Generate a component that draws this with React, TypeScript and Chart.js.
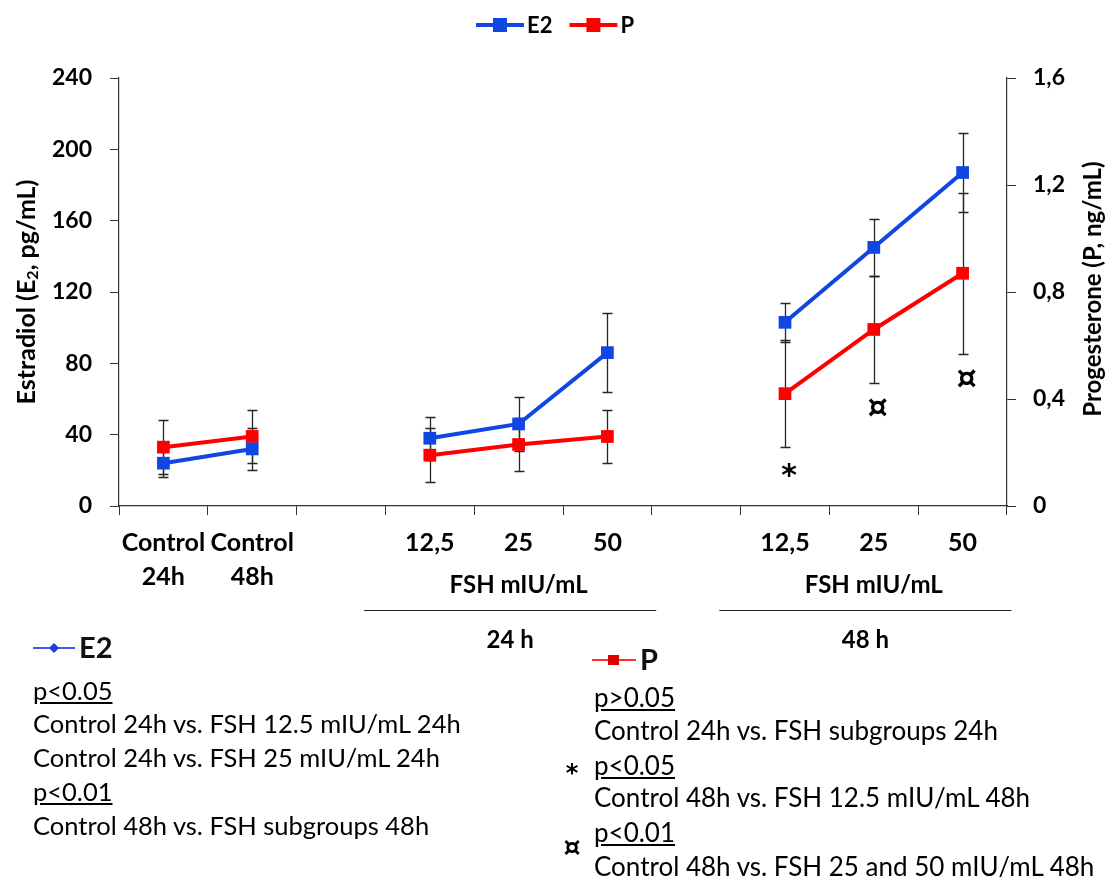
import React, { useEffect, useRef } from "react";
import { Chart, registerables } from "chart.js";

Chart.register(...registerables);

const FONT = "Lato, 'Noto Sans', 'DejaVu Sans', sans-serif";
const MARK_FONT = "'DejaVu Sans', sans-serif";
const BLUE = "#1046e2";
const RED = "#ff0000";

// ---- data ----
const categories: (string | string[])[] = [
  ["Control", "24h"],
  ["Control", "48h"],
  "",
  "12,5",
  "25",
  "50",
  "",
  "12,5",
  "25",
  "50",
];
const e2Values = [24, 32, null, 38, 46, 86, null, 103, 145, 187];
const e2Errors = [8, 12, null, 12, 15, 22, null, 11, 16, 22];
const pValues = [0.22, 0.26, null, 0.19, 0.23, 0.26, null, 0.42, 0.66, 0.87];
const pErrors = [0.1, 0.1, null, 0.1, 0.1, 0.1, null, 0.2, 0.2, 0.3];

const groupSubLabel = "FSH mIU/mL";
const groupNames = ["24 h", "48 h"];
const groupFirst = [3, 7];
const groupLast = [5, 9];

const sigIndex = [7, 8, 9];
const sigMark = ["*", "¤", "¤"];

const leftTitle = ["Estradiol (E", "2", ", pg/mL)"];
const rightTitle = "Progesterone (P, ng/mL)";

const e2NoteText = [
  "p<0.05",
  "Control 24h vs. FSH 12.5 mIU/mL 24h",
  "Control 24h vs. FSH 25 mIU/mL 24h",
  "p<0.01",
  "Control 48h vs. FSH subgroups 48h",
];
const e2NoteUnderline = [true, false, false, true, false];
const pNoteText = [
  "p>0.05",
  "Control 24h vs. FSH subgroups 24h",
  "p<0.05",
  "Control 48h vs. FSH 12.5 mIU/mL 48h",
  "p<0.01",
  "Control 48h vs. FSH 25 and 50 mIU/mL 48h",
];
const pNoteUnderline = [true, false, true, false, true, false];
const pNoteMark = ["", "", "*", "", "¤", ""];

const errorsByDataset = [e2Errors, pErrors];

const errorBarPlugin = {
  id: "errorBars",
  beforeDatasetsDraw(chart: any) {
    const ctx = chart.ctx;
    ctx.save();
    ctx.strokeStyle = "#262626";
    ctx.lineWidth = 1.3;
    chart.data.datasets.forEach((ds: any, di: number) => {
      const meta = chart.getDatasetMeta(di);
      const ys = chart.scales[ds.yAxisID];
      const errs = errorsByDataset[di];
      ds.data.forEach((v: number | null, i: number) => {
        const e = errs[i];
        if (v == null || e == null) return;
        const x = Math.round(meta.data[i].x) + 0.5;
        const yt = Math.round(ys.getPixelForValue(v + e)) + 0.5;
        const yb = Math.round(ys.getPixelForValue(v - e)) + 0.5;
        ctx.beginPath();
        ctx.moveTo(x, yt);
        ctx.lineTo(x, yb);
        ctx.moveTo(x - 5, yt);
        ctx.lineTo(x + 5, yt);
        ctx.moveTo(x - 5, yb);
        ctx.lineTo(x + 5, yb);
        ctx.stroke();
      });
    });
    ctx.restore();
  },
};

const overlayPlugin = {
  id: "overlay",
  afterDraw(chart: any) {
    const ctx = chart.ctx;
    const xs = chart.scales.x;
    const yr = chart.scales.y1;
    const area = chart.chartArea;
    const step = xs.getPixelForValue(1) - xs.getPixelForValue(0);
    ctx.save();

    // top legend
    ctx.font = `bold 22px ${FONT}`;
    ctx.textBaseline = "middle";
    ctx.textAlign = "left";
    const lineLen = 48;
    const gap = 17;
    const widths = chart.data.datasets.map(
      (d: any) => lineLen + 3 + ctx.measureText(d.label).width
    );
    const total = widths.reduce((a: number, b: number) => a + b, 0) + gap;
    let lx = chart.width / 2 - total / 2;
    const ly = 25;
    chart.data.datasets.forEach((d: any, i: number) => {
      ctx.strokeStyle = d.borderColor;
      ctx.lineWidth = 4;
      ctx.beginPath();
      ctx.moveTo(lx, ly);
      ctx.lineTo(lx + lineLen, ly);
      ctx.stroke();
      ctx.fillStyle = d.borderColor;
      ctx.fillRect(lx + lineLen / 2 - 7, ly - 7, 14, 14);
      ctx.fillStyle = "#000";
      ctx.fillText(d.label, lx + lineLen + 3, ly + 1);
      lx += widths[i] + gap;
    });

    // group labels
    ctx.fillStyle = "#000";
    ctx.textAlign = "center";
    ctx.font = `bold 24px ${FONT}`;
    groupNames.forEach((name, g) => {
      const a = xs.getPixelForValue(groupFirst[g]);
      const b = xs.getPixelForValue(groupLast[g]);
      const mid = (a + b) / 2;
      ctx.fillText(groupSubLabel, mid, 585);
      const l = a - 0.74 * step;
      const r = b + 0.55 * step;
      ctx.strokeStyle = "#222";
      ctx.lineWidth = 1.2;
      ctx.beginPath();
      ctx.moveTo(l, 610.5);
      ctx.lineTo(r, 610.5);
      ctx.stroke();
      ctx.fillText(name, (l + r) / 2, 640);
    });

    // significance marks
    sigIndex.forEach((idx, k) => {
      const x = xs.getPixelForValue(idx);
      const v = pValues[idx] as number;
      const e = pErrors[idx] as number;
      const y = yr.getPixelForValue(v - e) + 26;
      const isStar = sigMark[k] === "*";
      ctx.font = isStar ? `bold 30px ${MARK_FONT}` : `bold 32px ${MARK_FONT}`;
      ctx.fillText(sigMark[k], x + 4, isStar ? y + 4 : y);
    });

    // axis titles
    const cy = (area.top + area.bottom) / 2;
    ctx.save();
    ctx.translate(27, cy);
    ctx.rotate(-Math.PI / 2);
    const f1 = `bold 25px ${FONT}`;
    const f2 = `bold 16px ${FONT}`;
    ctx.font = f1;
    const w0 = ctx.measureText(leftTitle[0]).width;
    const w2 = ctx.measureText(leftTitle[2]).width;
    ctx.font = f2;
    const w1 = ctx.measureText(leftTitle[1]).width;
    let tx = -(w0 + w1 + w2) / 2;
    ctx.textAlign = "left";
    ctx.font = f1;
    ctx.fillText(leftTitle[0], tx, 0);
    tx += w0;
    ctx.font = f2;
    ctx.fillText(leftTitle[1], tx, 6);
    tx += w1;
    ctx.font = f1;
    ctx.fillText(leftTitle[2], tx, 0);
    ctx.restore();

    ctx.save();
    ctx.translate(1093, cy - 3);
    ctx.rotate(-Math.PI / 2);
    ctx.textAlign = "center";
    ctx.font = `bold 24px ${FONT}`;
    ctx.fillText(rightTitle, 0, 0);
    ctx.restore();

    ctx.restore();
  },
};

export default function App() {
  const ref = useRef<HTMLCanvasElement>(null);

  useEffect(() => {
    const tickFont = { family: FONT, size: 23, weight: "bold" as const };
    const chart = new Chart(ref.current as HTMLCanvasElement, {
      type: "line",
      data: {
        labels: categories as any,
        datasets: [
          {
            label: "E2",
            data: e2Values as any,
            yAxisID: "y",
            borderColor: BLUE,
            backgroundColor: BLUE,
            pointBackgroundColor: BLUE,
            pointBorderColor: BLUE,
            borderWidth: 4,
            pointStyle: "rect",
            pointRadius: 9,
            pointBorderWidth: 0,
            spanGaps: false,
            tension: 0,
          },
          {
            label: "P",
            data: pValues as any,
            yAxisID: "y1",
            borderColor: RED,
            backgroundColor: RED,
            pointBackgroundColor: RED,
            pointBorderColor: RED,
            borderWidth: 4,
            pointStyle: "rect",
            pointRadius: 9,
            pointBorderWidth: 0,
            spanGaps: false,
            tension: 0,
          },
        ],
      },
      options: {
        animation: false,
        responsive: false,
        layout: { padding: { top: 78, left: 0, right: 0, bottom: 0 } },
        plugins: {
          legend: { display: false },
          tooltip: { enabled: false },
        },
        scales: {
          x: {
            offset: true,
            grid: {
              offset: true,
              drawOnChartArea: false,
              drawTicks: true,
              tickLength: 9,
              color: "#333",
            },
            border: { color: "#333", width: 1.2 },
            ticks: {
              font: { family: FONT, size: 25, weight: "bold", lineHeight: 1.36 },
              color: "#000",
              padding: 11,
              maxRotation: 0,
              autoSkip: false,
            },
            afterFit: (s: any) => {
              s.height = 877 - 506;
            },
          },
          y: {
            position: "left",
            min: 0,
            max: 240,
            grid: { drawOnChartArea: false, tickLength: 9, color: "#333" },
            border: { color: "#333", width: 1.2 },
            ticks: { stepSize: 40, font: tickFont, color: "#000", padding: 18 },
            afterFit: (s: any) => {
              s.width = 119;
            },
          },
          y1: {
            position: "right",
            min: 0,
            max: 1.6,
            grid: { drawOnChartArea: false, tickLength: 9, color: "#333" },
            border: { color: "#333", width: 1.2 },
            ticks: {
              stepSize: 0.4,
              font: tickFont,
              color: "#000",
              padding: 17,
              callback: (v: any) => String(Math.round(Number(v) * 10) / 10).replace(".", ","),
            },
            afterFit: (s: any) => {
              s.width = 1110 - 1007;
            },
          },
        },
      },
      plugins: [errorBarPlugin, overlayPlugin],
    });
    return () => chart.destroy();
  }, []);

  const noteStyle = (x: number, y: number, u: boolean, size: number): React.CSSProperties => ({
    position: "absolute",
    left: x,
    top: y - 17,
    height: 34,
    lineHeight: "34px",
    fontSize: size,
    fontFamily: FONT,
    color: "#000",
    whiteSpace: "nowrap",
    textDecoration: u ? "underline" : "none",
  });

  const e2Y = [690, 723, 757, 791, 825];
  const pY = [697, 730, 765, 797, 832, 866];

  return (
    <div
      style={{
        position: "absolute",
        left: 0,
        top: 0,
        width: 1110,
        height: 877,
        background: "#fff",
        overflow: "hidden",
      }}
    >
      <canvas
        ref={ref}
        width={1110}
        height={877}
        style={{ position: "absolute", left: 0, top: 0, width: 1110, height: 877 }}
      />
      {/* E2 legend */}
      <svg style={{ position: "absolute", left: 33, top: 640 }} width={44} height={16}>
        <line x1={0} y1={8} x2={42} y2={8} stroke="#3a5cf0" strokeWidth={2} />
        <polygon points="21,3 26,8 21,13 16,8" fill="#1a3fd8" />
      </svg>
      <div
        style={{
          position: "absolute",
          left: 79,
          top: 630,
          lineHeight: "34px",
          fontSize: 29,
          fontWeight: "bold",
          fontFamily: FONT,
          color: "#111",
        }}
      >
        E2
      </div>
      {e2NoteText.map((t, i) => (
        <div key={"e" + i} style={noteStyle(33, e2Y[i], e2NoteUnderline[i], 25.5)}>
          {t}
        </div>
      ))}
      {/* P legend */}
      <svg style={{ position: "absolute", left: 592, top: 652 }} width={46} height={16}>
        <line x1={0} y1={8} x2={44} y2={8} stroke="#ff3030" strokeWidth={2} />
        <rect x={16} y={3} width={11} height={10} fill="#e00000" />
      </svg>
      <div
        style={{
          position: "absolute",
          left: 640,
          top: 642,
          lineHeight: "34px",
          fontSize: 29,
          fontWeight: "bold",
          fontFamily: FONT,
          color: "#111",
        }}
      >
        P
      </div>
      {pNoteText.map((t, i) => (
        <div key={"p" + i} style={noteStyle(594, pY[i], pNoteUnderline[i], 26)}>
          {t}
        </div>
      ))}
      {pNoteMark.map((m, i) =>
        m ? (
          <div
            key={"m" + i}
            style={{
              position: "absolute",
              left: 562,
              top: pY[i] - 17 + (m === "*" ? 8 : 15),
              width: 20,
              textAlign: "center",
              lineHeight: "34px",
              fontSize: m === "*" ? 24 : 27,
              fontWeight: "bold",
              fontFamily: MARK_FONT,
            }}
          >
            {m}
          </div>
        ) : null
      )}
    </div>
  );
}
